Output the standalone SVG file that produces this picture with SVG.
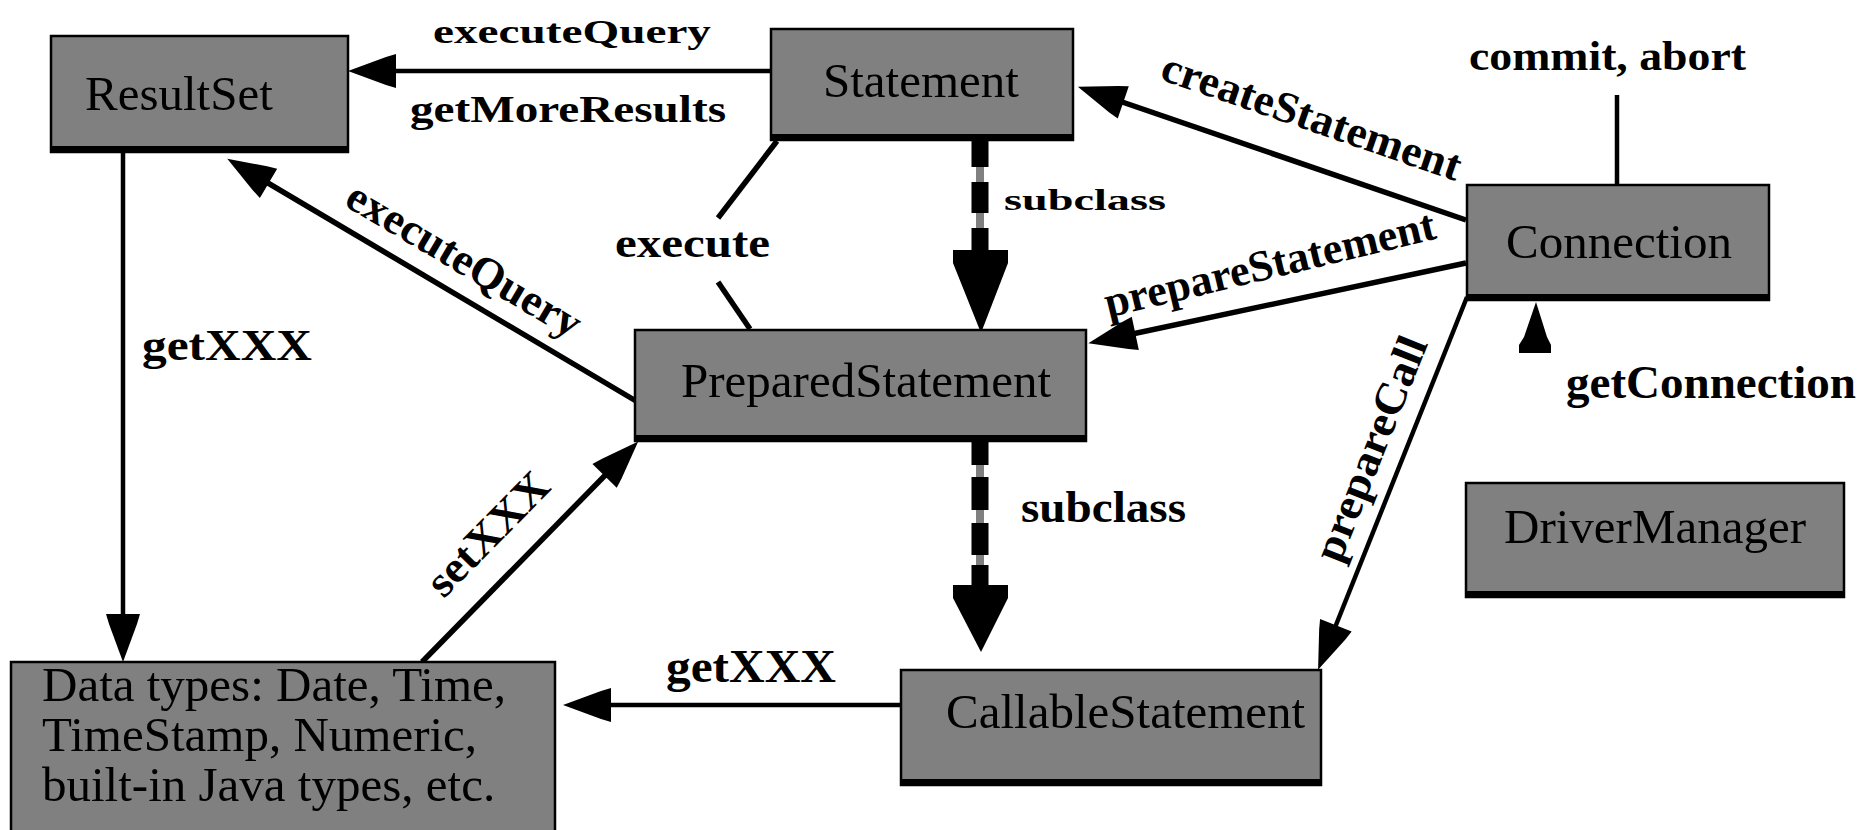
<svg xmlns="http://www.w3.org/2000/svg" width="1872" height="830" viewBox="0 0 1872 830">
  <style>
    .box { fill: #808080; stroke: #000; stroke-width: 2.5; }
    .shadow { stroke: #000; stroke-width: 6; }
    .name { font-family: "Liberation Serif", "Times New Roman", serif; font-size: 49px; fill: #000; }
    .lbl { font-family: "Liberation Serif", "Times New Roman", serif; font-weight: bold; fill: #000; }
    .wire { stroke: #000; stroke-width: 4.5; fill: none; }
    .thick { stroke-width: 5.5; }
    .core { stroke: #808080; stroke-width: 8; }
    .dash { stroke: #000; stroke-width: 17; fill: none; }
    .head { fill: #000; }
  </style>
  <defs>
    <marker id="arrow" markerUnits="userSpaceOnUse" viewBox="-50 -18 51 36" markerWidth="51" markerHeight="36" refX="-16" refY="0" orient="auto">
      <path d="M0,0 L-38,-14 L-48,-17 L-48,17 L-38,14 Z" fill="#000"/>
    </marker>
  </defs>
  <rect width="1872" height="830" fill="#fff"/>

  <!-- connectors -->
  <g id="connectors">
    <!-- Statement -> ResultSet : executeQuery / getMoreResults -->
    <line class="wire" x1="771" y1="71" x2="364" y2="71" marker-end="url(#arrow)"/>
    <!-- ResultSet -> Data types : getXXX -->
    <line class="wire" x1="123" y1="152" x2="123" y2="646" marker-end="url(#arrow)"/>
    <!-- PreparedStatement -> ResultSet : executeQuery -->
    <line class="wire thick" x1="636" y1="401" x2="241" y2="167" marker-end="url(#arrow)"/>
    <!-- Statement - PreparedStatement : execute -->
    <line class="wire thick" x1="777" y1="141" x2="718" y2="218"/>
    <line class="wire thick" x1="718" y1="282" x2="750" y2="329"/>
    <!-- Connection -> Statement : createStatement -->
    <line class="wire thick" x1="1466" y1="220" x2="1093" y2="92" marker-end="url(#arrow)"/>
    <!-- Connection -> PreparedStatement : prepareStatement -->
    <line class="wire thick" x1="1466" y1="263" x2="1104" y2="340" marker-end="url(#arrow)"/>
    <!-- Connection -> CallableStatement : prepareCall -->
    <line class="wire" x1="1467" y1="297" x2="1324" y2="655" marker-end="url(#arrow)"/>
    <!-- commit, abort -->
    <line class="wire" x1="1617" y1="95" x2="1617" y2="186"/>
    <!-- getConnection -->
    <polygon class="head" points="1536,302 1547,337 1551,345 1551,353 1519,353 1519,345 1524,337"/>
    <!-- Data types -> PreparedStatement : setXXX -->
    <line class="wire thick" x1="422" y1="662" x2="627" y2="453" marker-end="url(#arrow)"/>
    <!-- CallableStatement -> Data types : getXXX -->
    <line class="wire" x1="901" y1="705" x2="579" y2="705" marker-end="url(#arrow)"/>
    <!-- Statement -> PreparedStatement : subclass -->
    <line class="core" x1="980" y1="141" x2="980" y2="255"/>
    <line class="dash" x1="980" y1="141" x2="980" y2="255" stroke-dasharray="26 15 31 15 40"/>
    <polygon class="head" points="953,250 1008,250 1008,263 981,333 953,263"/>
    <!-- PreparedStatement -> CallableStatement : subclass -->
    <line class="core" x1="980" y1="441" x2="980" y2="590"/>
    <line class="dash" x1="980" y1="441" x2="980" y2="590" stroke-dasharray="24 12 33 13 32 10 40"/>
    <polygon class="head" points="953,585 1008,585 1008,598 981,652 953,598"/>
  </g>

  <!-- connector labels -->
  <g id="labels">
    <text class="lbl" x="433" y="43" font-size="34" textLength="278" lengthAdjust="spacingAndGlyphs">executeQuery</text>
    <text class="lbl" x="410" y="122" font-size="38" textLength="316" lengthAdjust="spacingAndGlyphs">getMoreResults</text>
    <text class="lbl" x="142" y="360" font-size="44" textLength="170" lengthAdjust="spacingAndGlyphs">getXXX</text>
    <text class="lbl" transform="translate(457,272) rotate(30.5)" text-anchor="middle" font-size="44" textLength="265" lengthAdjust="spacingAndGlyphs">executeQuery</text>
    <text class="lbl" x="615" y="257" font-size="42" textLength="155" lengthAdjust="spacingAndGlyphs">execute</text>
    <text class="lbl" x="1004" y="210" font-size="30" textLength="162" lengthAdjust="spacingAndGlyphs">subclass</text>
    <text class="lbl" x="1021" y="522" font-size="44" textLength="165" lengthAdjust="spacingAndGlyphs">subclass</text>
    <text class="lbl" transform="translate(1307,130) rotate(19)" text-anchor="middle" font-size="44" textLength="314" lengthAdjust="spacingAndGlyphs">createStatement</text>
    <text class="lbl" transform="translate(1273,278) rotate(-13.5)" text-anchor="middle" font-size="44" textLength="339" lengthAdjust="spacingAndGlyphs">prepareStatement</text>
    <text class="lbl" transform="translate(1384,454) rotate(-68.2)" text-anchor="middle" font-size="44" textLength="238" lengthAdjust="spacingAndGlyphs">prepareCall</text>
    <text class="lbl" x="1469" y="70" font-size="42" textLength="277" lengthAdjust="spacingAndGlyphs">commit, abort</text>
    <text class="lbl" x="1566" y="398" font-size="46" textLength="290" lengthAdjust="spacingAndGlyphs">getConnection</text>
    <text class="lbl" transform="translate(498,544) rotate(-45.5)" text-anchor="middle" font-size="44" textLength="155" lengthAdjust="spacingAndGlyphs">setXXX</text>
    <text class="lbl" x="666" y="682" font-size="46" textLength="170" lengthAdjust="spacingAndGlyphs">getXXX</text>
  </g>

  <!-- classes -->
  <g id="resultset">
    <rect class="box" x="51" y="36" width="297" height="116"/>
    <line class="shadow" x1="51" y1="149" x2="348" y2="149"/>
    <text class="name" x="85" y="110">ResultSet</text>
  </g>
  <g id="statement">
    <rect class="box" x="771" y="29" width="302" height="111"/>
    <line class="shadow" x1="771" y1="137" x2="1073" y2="137"/>
    <text class="name" x="823" y="97">Statement</text>
  </g>
  <g id="connection">
    <rect class="box" x="1467" y="185" width="302" height="115"/>
    <line class="shadow" x1="1467" y1="297" x2="1769" y2="297"/>
    <text class="name" x="1506" y="258">Connection</text>
  </g>
  <g id="preparedstatement">
    <rect class="box" x="635" y="330" width="451" height="111"/>
    <line class="shadow" x1="635" y1="438" x2="1086" y2="438"/>
    <text class="name" x="681" y="397">PreparedStatement</text>
  </g>
  <g id="drivermanager">
    <rect class="box" x="1466" y="483" width="378" height="114"/>
    <line class="shadow" x1="1466" y1="594" x2="1844" y2="594"/>
    <text class="name" x="1504" y="543">DriverManager</text>
  </g>
  <g id="callablestatement">
    <rect class="box" x="901" y="670" width="420" height="115"/>
    <line class="shadow" x1="901" y1="782" x2="1321" y2="782"/>
    <text class="name" x="946" y="728">CallableStatement</text>
  </g>
  <g id="datatypes">
    <rect class="box" x="11" y="662" width="544" height="200"/>
    <text class="name" x="42" y="701" font-size="47">Data types: Date, Time,</text>
    <text class="name" x="42" y="751" font-size="47">TimeStamp, Numeric,</text>
    <text class="name" x="42" y="801" font-size="47">built-in Java types, etc.</text>
  </g>
</svg>
